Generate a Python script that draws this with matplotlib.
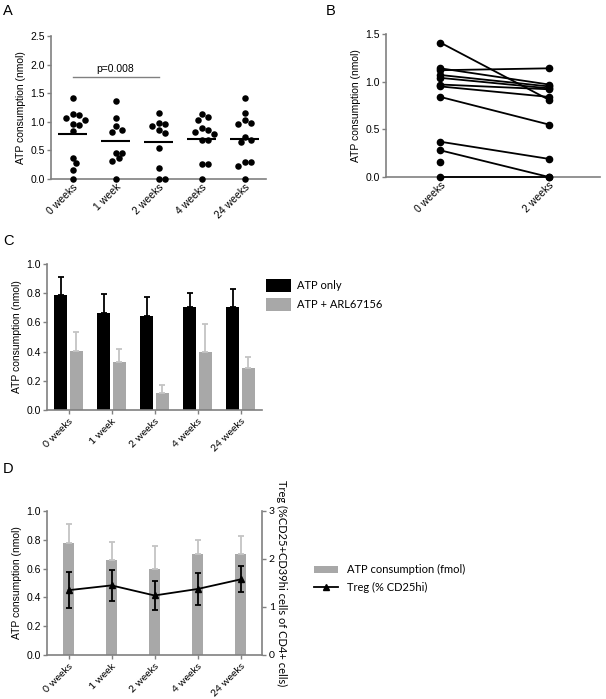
import numpy as np
import matplotlib
matplotlib.use("Agg")
import matplotlib.pyplot as plt
from matplotlib.patches import Patch
from matplotlib.lines import Line2D

plt.rcParams['font.family'] = ['Liberation Sans', 'DejaVu Sans']
plt.rcParams['font.size'] = 7.5

# =========================
# Data
# =========================
groups = ['0 weeks', '1 week', '2 weeks', '4 weeks', '24 weeks']

# Panel A - individual ATP consumption (nmol)
a_0w = [1.41, 1.14, 1.12, 1.07, 1.04, 0.97, 0.95, 0.84, 0.37, 0.28, 0.16, 0.0]
a_1w = [1.36, 1.06, 0.93, 0.85, 0.83, 0.46, 0.46, 0.37, 0.32, 0.0]
a_2w = [1.15, 0.98, 0.96, 0.93, 0.86, 0.80, 0.55, 0.19, 0.0, 0.0]
a_4w = [1.13, 1.08, 1.03, 0.89, 0.85, 0.83, 0.79, 0.68, 0.68, 0.26, 0.26, 0.0]
a_24w = [1.41, 1.16, 1.03, 0.98, 0.96, 0.74, 0.69, 0.65, 0.29, 0.29, 0.23, 0.0]
p_text = 'p=0.008'

# Panel B - paired 0 vs 2 weeks
b_labels = ['0 weeks', '2 weeks']
b_0w = [1.41, 1.14, 1.12, 1.07, 1.04, 0.97, 0.95, 0.84, 0.37, 0.28, 0.16, 0.0]
b_2w = [0.81, 0.97, 1.14, 0.95, 0.93, 0.92, 0.84, 0.55, 0.19, 0.0, np.nan, 0.0]

# Panel C - mean + upper SEM
c_atp = [0.785, 0.667, 0.644, 0.704, 0.708]
c_atp_err = [0.127, 0.125, 0.129, 0.097, 0.118]
c_arl = [0.405, 0.331, 0.116, 0.394, 0.287]
c_arl_err = [0.127, 0.088, 0.055, 0.194, 0.079]

# Panel D - ATP consumption bars + Treg line (right axis)
d_atp = [0.78, 0.66, 0.60, 0.70, 0.70]
d_atp_err = [0.127, 0.127, 0.157, 0.096, 0.124]
d_treg = [1.35, 1.45, 1.24, 1.375, 1.575]
d_treg_err = [0.37, 0.33, 0.31, 0.33, 0.27]

AX_GRAY = '#808080'
BAR_GRAY = '#a8a8a8'
GILL = ['Lato', 'DejaVu Sans']


def style_axes(ax, xticks_visible=False):
    for s in ['top', 'right']:
        ax.spines[s].set_visible(False)
    for s in ['left', 'bottom']:
        ax.spines[s].set_color(AX_GRAY)
        ax.spines[s].set_linewidth(1.2)
    ax.tick_params(axis='y', color=AX_GRAY, length=3, width=1, pad=1.5)
    ax.tick_params(axis='x', color=AX_GRAY, length=3 if xticks_visible else 0, width=1, pad=2)


def swarm_offsets(vals, xscale, yscale, diam):
    # simple beeswarm: place points so circles don't overlap (pixel units)
    order = np.argsort(vals)[::-1]
    placed = []
    offs = np.zeros(len(vals))
    step = diam * 0.5
    for i in order:
        y = vals[i] * yscale
        for k in range(0, 40):
            cand = ((k + 1) // 2) * step * (1 if k % 2 else -1) if k else 0.0
            ok = all((cand - px) ** 2 + (y - py) ** 2 >= (diam * 0.95) ** 2 for px, py in placed)
            if ok:
                break
        placed.append((cand, y))
        offs[i] = cand / xscale
    return offs


fig = plt.figure(figsize=(6.06, 6.99), dpi=100)
W, H = 606, 699


def add_ax(x0, x1, ytop, ybot):
    return fig.add_axes([x0 / W, 1 - ybot / H, (x1 - x0) / W, (ybot - ytop) / H])


# ---------- Panel A ----------
axA = add_ax(51, 266, 36, 179)
style_axes(axA)
a_data = [a_0w, a_1w, a_2w, a_4w, a_24w]
for i, vals in enumerate(a_data):
    vals = np.array(vals)
    offs = swarm_offsets(vals, 43.0, 57.2, 6.2)
    axA.scatter(i + offs, vals, s=22, color='black', zorder=3, clip_on=False, linewidths=0)
    axA.hlines(np.mean(vals), i - 0.34, i + 0.34, color='black', lw=1.5, zorder=2)
axA.plot([0, 2], [1.79, 1.79], color=AX_GRAY, lw=1)
axA.text(1, 1.83, p_text, ha='center', va='bottom', fontsize=7.5)
axA.set_xlim(-0.5, 4.5)
axA.set_ylim(0, 2.5)
axA.set_yticks(np.arange(0, 2.51, 0.5))
axA.yaxis.set_major_formatter(matplotlib.ticker.FormatStrFormatter('%.1f'))
axA.set_xticks(range(len(groups)))
axA.set_xticklabels(groups, rotation=45, ha='right', rotation_mode='anchor')
axA.set_ylabel('ATP consumption (nmol)', labelpad=3)

# ---------- Panel B ----------
axB = add_ax(386, 600, 34, 177)
style_axes(axB)
for v0, v2 in zip(b_0w, b_2w):
    if np.isnan(v2):
        axB.plot([0], [v0], 'o', color='black', ms=4.5, clip_on=False, zorder=3)
    else:
        axB.plot([0, 1], [v0, v2], '-o', color='black', lw=1.3, ms=4.5, clip_on=False, zorder=3)
axB.set_xlim(-0.5, 1.47)
axB.set_ylim(0, 1.5)
axB.set_yticks([0, 0.5, 1.0, 1.5])
axB.yaxis.set_major_formatter(matplotlib.ticker.FormatStrFormatter('%.1f'))
axB.set_xticks([0, 1])
axB.set_xticklabels(b_labels, rotation=45, ha='right', rotation_mode='anchor')
axB.set_ylabel('ATP consumption (nmol)', labelpad=3)

# ---------- Panel C ----------
axC = add_ax(47, 262, 264, 410)
style_axes(axC, xticks_visible=True)
x = np.arange(len(groups))
bw = 0.3
axC.bar(x - 0.18, c_atp, bw, color='black', yerr=[np.zeros(5), c_atp_err],
        error_kw=dict(ecolor='black', elinewidth=1.3, capsize=2.5, capthick=1.3), label='ATP only')
axC.bar(x + 0.18, c_arl, bw, color=BAR_GRAY, yerr=[np.zeros(5), c_arl_err],
        error_kw=dict(ecolor='#c4c4c4', elinewidth=1.3, capsize=2.5, capthick=1.3), label='ATP + ARL67156')
axC.set_xlim(-0.5, 4.5)
axC.set_ylim(0, 1.0)
axC.set_yticks(np.arange(0, 1.01, 0.2))
axC.yaxis.set_major_formatter(matplotlib.ticker.FormatStrFormatter('%.1f'))
axC.set_xticks(x)
axC.set_xticklabels(groups, rotation=45, ha='right', rotation_mode='anchor', family=GILL, fontsize=7.5)
axC.set_ylabel('ATP consumption (nmol)', labelpad=3)
axC.legend(loc='upper left', bbox_to_anchor=(1.02, 0.9), frameon=False,
           prop={'family': GILL, 'size': 8}, handlelength=2.2, handleheight=1.5,
           handletextpad=0.6, labelspacing=0.5, borderaxespad=0, borderpad=0)

# ---------- Panel D ----------
axD = add_ax(47, 262, 511, 655)
style_axes(axD, xticks_visible=True)
axD.bar(x, d_atp, 0.24, color=BAR_GRAY, yerr=[np.zeros(5), d_atp_err],
        error_kw=dict(ecolor='#c4c4c4', elinewidth=1.3, capsize=2.5, capthick=1.3), zorder=1)
axD.set_xlim(-0.5, 4.5)
axD.set_ylim(0, 1.0)
axD.set_yticks(np.arange(0, 1.01, 0.2))
axD.yaxis.set_major_formatter(matplotlib.ticker.FormatStrFormatter('%.1f'))
axD.set_xticks(x)
axD.set_xticklabels(groups, rotation=45, ha='right', rotation_mode='anchor', family=GILL, fontsize=7.5)
axD.set_ylabel('ATP consumption (nmol)', labelpad=3)

axD2 = axD.twinx()
for s in ['top', 'left', 'bottom']:
    axD2.spines[s].set_visible(False)
axD2.spines['right'].set_color(AX_GRAY)
axD2.spines['right'].set_linewidth(1.2)
axD2.tick_params(axis='y', color=AX_GRAY, length=3, width=1, pad=2)
axD2.errorbar(x, d_treg, yerr=d_treg_err, color='black', lw=1.3, marker='^', ms=4,
              capsize=2.5, capthick=1.3, elinewidth=1.3)
axD2.set_ylim(0, 3)
axD2.set_yticks([0, 1, 2, 3])
for lab in axD2.get_yticklabels():
    lab.set_family(GILL)
axD2.set_ylabel('Treg (%CD25+CD39hi cells of CD4+ cells)', rotation=270, labelpad=9,
                family=GILL, fontsize=8)

handles = [Patch(facecolor=BAR_GRAY, edgecolor='none'),
           Line2D([0], [0], color='black', lw=1.3, marker='^', ms=4)]
axD.legend(handles, ['ATP consumption (fmol)', 'Treg (% CD25hi)'], loc='center left',
           bbox_to_anchor=(1.24, 0.53), frameon=False, prop={'family': GILL, 'size': 8},
           handlelength=2.2, handletextpad=0.8, labelspacing=0.6, borderaxespad=0, borderpad=0)

# Panel letters
for lab, (px, py) in zip(['A', 'B', 'C', 'D'], [(3, 4), (326, 4), (3, 234), (3, 462)]):
    fig.text(px / W, 1 - py / H, lab, ha='left', va='top', fontsize=10.5)

fig.savefig('out.png', dpi=100)
